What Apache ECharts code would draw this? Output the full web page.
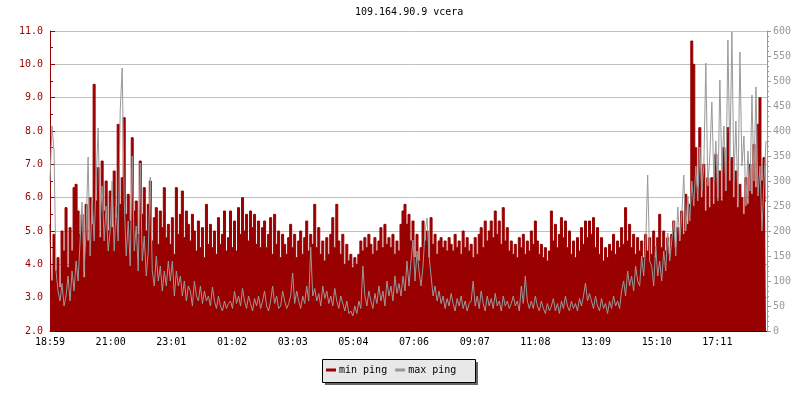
<!DOCTYPE html>
<html>
<head>
<meta charset="utf-8">
<script src="https://cdn.jsdelivr.net/npm/echarts@6/dist/echarts.min.js"></script>
<style>html,body{margin:0;padding:0;background:#fff;}#c{width:800px;height:400px;}</style>
</head>
<body>
<div id="c"></div>
<script>
const titleText = '109.164.90.9 vcera';
const seriesNames = ['min ping', 'max ping'];
const tickLabels = ['18:59','21:00','23:01','01:02','03:03','05:04','07:06','09:07','11:08','13:09','15:10','17:11'];
const tickStepMin = 121;
const sampleStepMin = 4;
const spanMin = 1430;

// min ping (ms, left axis), one sample every 4 minutes from 18:59
const minPing = [
5.2,3.5,4.9,3.8,4.2,3.3,5.0,4.4,5.7,3.9,5.1,4.4,6.3,6.4,5.6,4.9,5.5,3.6,5.8,4.7,6.0,5.2,9.4,5.9,6.9,4.8,7.1,5.6,6.5,5.0,
6.2,5.1,6.8,5.4,8.2,5.8,6.6,8.4,5.5,6.1,5.3,7.8,5.6,5.9,4.9,7.1,5.5,6.3,5.0,5.8,6.5,4.7,5.4,5.7,4.6,5.6,5.1,6.3,4.8,5.2,
4.6,5.4,4.3,6.3,4.9,5.5,6.2,4.8,5.6,5.2,4.7,5.5,5.0,4.4,5.3,4.5,5.1,4.2,5.8,4.6,5.2,4.5,5.0,4.3,5.4,4.6,4.9,5.6,4.4,4.8,
5.6,4.5,5.3,4.4,5.7,4.9,6.0,5.0,5.5,4.7,5.6,5.1,5.5,4.6,5.3,4.5,5.1,5.3,4.5,4.9,5.4,4.3,5.5,4.6,5.0,4.2,4.9,4.6,4.3,4.8,
5.2,4.5,4.9,4.2,4.7,5.0,4.3,4.8,5.3,4.4,4.9,4.6,5.8,4.5,5.1,4.3,4.7,4.1,4.8,4.3,4.9,5.4,4.5,5.8,4.7,4.3,4.9,4.0,4.6,4.1,
4.3,3.9,4.2,4.0,4.3,4.7,4.4,4.8,4.5,4.9,4.6,4.3,4.8,4.4,4.7,5.1,4.5,5.2,4.6,4.8,4.5,4.9,4.3,4.7,4.4,5.2,5.6,5.8,5.2,5.5,
4.7,5.3,4.2,4.9,4.1,4.5,5.3,4.7,5.0,4.2,5.4,4.6,4.9,4.3,4.7,4.8,4.5,4.7,4.4,4.8,4.6,4.4,4.9,4.5,4.7,4.3,5.0,4.5,4.8,4.4,
4.6,4.2,4.8,4.3,4.9,5.1,4.5,5.3,4.7,5.0,5.3,4.8,5.6,4.9,5.3,4.6,5.7,4.7,5.1,4.4,4.7,4.3,4.6,4.2,4.8,4.5,4.9,4.3,4.7,4.4,
5.0,4.6,5.3,4.7,4.3,4.6,4.2,4.5,4.1,4.4,5.6,4.7,5.2,4.5,4.9,5.4,4.8,5.3,4.5,5.0,4.3,4.7,4.2,4.8,4.4,5.1,4.6,5.3,4.8,5.3,
4.9,5.4,4.5,5.1,4.3,4.8,4.1,4.5,4.2,4.6,4.4,4.9,4.3,4.7,4.5,5.1,4.6,5.7,4.7,5.2,4.5,4.9,4.3,4.8,4.4,4.7,4.2,4.9,4.4,4.8,
4.3,5.0,4.2,4.8,5.5,4.5,5.0,4.4,4.8,4.3,4.9,5.3,4.5,5.1,4.7,5.6,4.9,6.1,5.2,5.8,10.7,10.0,7.5,6.3,8.1,6.0,7.0,5.6,6.6,5.7,
6.6,5.8,7.3,6.0,6.8,5.9,7.5,6.2,8.1,6.5,7.2,6.0,6.8,5.7,6.4,6.0,5.5,6.6,5.8,7.0,6.1,7.6,6.3,8.2,9.0,6.5,7.2,5.9
];

// max ping (ms, right axis), same sampling
const maxPing = [
300,410,360,120,80,60,95,50,70,110,60,120,80,140,100,180,258,120,200,348,150,260,180,300,406,220,290,180,250,160,
200,300,160,250,180,440,526,260,150,220,130,350,160,210,120,336,140,190,110,160,308,120,90,150,100,130,80,120,90,140,
100,140,70,120,90,110,70,100,60,90,80,50,100,70,60,90,55,80,60,70,50,88,60,45,70,50,40,60,45,55,
60,45,80,55,70,50,85,60,45,70,55,40,65,50,70,45,60,80,50,40,60,90,55,70,45,50,80,60,45,55,
70,116,55,80,60,45,70,55,90,60,168,70,85,60,75,50,90,65,80,55,70,50,85,60,45,70,55,40,60,35,
40,30,50,35,60,45,130,70,50,80,60,45,75,55,90,60,80,50,100,70,90,60,110,75,95,70,110,80,140,90,
140,182,100,160,120,90,130,200,226,150,110,70,90,60,80,55,70,45,65,50,75,55,40,65,50,70,45,60,40,55,
60,100,50,70,45,80,55,40,70,50,65,45,75,50,60,40,70,50,60,45,55,70,50,60,40,90,55,110,60,45,
60,45,70,50,40,60,45,35,55,40,50,65,40,55,35,60,45,70,50,40,60,45,55,40,65,50,70,96,60,75,
60,45,70,50,40,65,45,55,35,60,45,70,50,60,45,80,100,70,120,90,110,80,130,100,90,150,110,170,312,140,
130,90,170,110,140,100,160,120,196,140,180,220,150,248,180,230,312,200,270,220,300,250,330,260,368,280,330,536,290,350,
458,300,380,260,502,320,410,280,582,340,598,300,420,260,558,330,390,250,360,280,472,300,488,270,330,200,300,380
];

const minData = minPing.map((v, i) => [i * sampleStepMin, v]);
const maxData = maxPing.map((v, i) => [i * sampleStepMin, v]);

const FONT = 'DejaVu Sans Mono';
const RED = '#990000';
const GRAY = '#999999';

const chart = echarts.init(document.getElementById('c'), null, {renderer: 'canvas'});
chart.setOption({
  animation: false,
  backgroundColor: '#ffffff',
  title: {
    text: titleText, left: 355, top: 7, padding: 0,
    textStyle: {fontFamily: FONT, fontSize: 10, fontWeight: 'normal', color: '#000'}
  },
  grid: {left: 50, right: 33, top: 31, bottom: 69, containLabel: false},
  graphic: [
    {type: 'rect', left: 325, top: 362, z: 0, silent: true,
     shape: {width: 153, height: 23}, style: {fill: '#666666'}},
    {type: 'rect', left: 322, top: 359, z: 1, silent: true,
     shape: {width: 153, height: 23}, style: {fill: '#e8e8e8', stroke: '#000', lineWidth: 1}}
  ],
  legend: {
    data: seriesNames,
    left: 326, top: 365, z: 10,
    orient: 'horizontal',
    padding: 0,
    itemGap: 8,
    itemWidth: 10, itemHeight: 3,
    icon: 'rect',
    textStyle: {fontFamily: FONT, fontSize: 10, color: '#000', padding: [0, 0, 0, -2]}
  },
  xAxis: {
    type: 'value', min: 0, max: spanMin, interval: tickStepMin,
    axisLine: {show: true, lineStyle: {color: '#000', width: 1}},
    axisTick: {show: true, inside: true, length: 4, lineStyle: {color: '#000'}},
    splitLine: {show: false},
    axisLabel: {
      fontFamily: FONT, fontSize: 10, color: '#000', margin: 6, showMaxLabel: false,
      formatter: function (v) {
        const k = Math.round(v / tickStepMin);
        return (Math.abs(v - k * tickStepMin) < 0.01 && k < tickLabels.length) ? tickLabels[k] : '';
      }
    }
  },
  yAxis: [{
    type: 'value', min: 2, max: 11, interval: 1, position: 'left',
    axisLine: {show: true, lineStyle: {color: RED, width: 1}},
    axisTick: {show: true, inside: true, length: 5, lineStyle: {color: RED}},
    minorTick: {show: true, splitNumber: 2, length: 3, lineStyle: {color: RED}},
    splitLine: {show: true, lineStyle: {color: '#c0c0c0', width: 1}},
    axisLabel: {fontFamily: FONT, fontSize: 10, color: RED, margin: 7, formatter: v => v.toFixed(1)}
  }, {
    type: 'value', min: 0, max: 600, interval: 50, position: 'right',
    axisLine: {show: true, lineStyle: {color: GRAY, width: 1}},
    axisTick: {show: true, inside: false, length: 4, lineStyle: {color: GRAY}},
    minorTick: {show: true, splitNumber: 5, length: 2, lineStyle: {color: GRAY}},
    splitLine: {show: false},
    axisLabel: {fontFamily: FONT, fontSize: 10, color: GRAY, margin: 6}
  }],
  series: [{
    name: seriesNames[0], type: 'line', yAxisIndex: 0, data: minData,
    step: 'middle', symbol: 'none', z: 2,
    itemStyle: {color: RED},
    lineStyle: {color: RED, width: 1},
    areaStyle: {color: RED, opacity: 1, origin: 'start'}
  }, {
    name: seriesNames[1], type: 'line', yAxisIndex: 1, data: maxData,
    symbol: 'none', z: 3,
    itemStyle: {color: GRAY},
    lineStyle: {color: GRAY, width: 1}
  }]
});
</script>
</body>
</html>
